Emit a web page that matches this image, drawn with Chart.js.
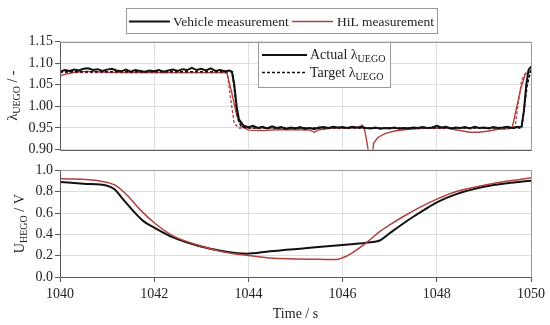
<!DOCTYPE html>
<html><head><meta charset="utf-8">
<script src="https://cdn.jsdelivr.net/npm/chart.js@4.4.1/dist/chart.umd.min.js"></script>
<style>
html,body{margin:0;padding:0;background:#fff;width:550px;height:325px;overflow:hidden}
canvas{position:absolute;left:0}
#c1{top:0}#c2{top:160px}
</style></head><body>
<canvas id="c1" width="550" height="160"></canvas>
<canvas id="c2" width="550" height="165"></canvas>
<script>
// ---------- DATA ----------
const xTicks = [1040, 1042, 1044, 1046, 1048, 1050];
const lambdaTicks = [0.90, 0.95, 1.00, 1.05, 1.10, 1.15];
const voltTicks = [0.0, 0.2, 0.4, 0.6, 0.8, 1.0];

const seriesNames = ['Vehicle measurement', 'HiL measurement'];
const innerNames = ['Actual', 'Target'];

// Vehicle: actual lambda (UEGO)
const vehActT = [1040.0,1040.1,1040.2,1040.3,1040.4,1040.5,1040.6,1040.7,1040.8,1040.9,1041.0,1041.1,1041.2,1041.3,1041.4,1041.5,1041.6,1041.7,1041.8,1041.9,1042.0,1042.1,1042.2,1042.3,1042.4,1042.5,1042.6,1042.7,1042.8,1042.9,1043.0,1043.1,1043.2,1043.3,1043.4,1043.5,1043.6,1043.65,1043.7,1043.75,1043.8,1043.9,1044.0,1044.1,1044.2,1044.3,1044.4,1044.5,1044.6,1044.7,1044.8,1044.9,1045.0,1045.1,1045.2,1045.3,1045.4,1045.5,1045.6,1045.7,1045.8,1045.9,1046.0,1046.1,1046.2,1046.3,1046.4,1046.5,1046.6,1046.7,1046.8,1046.9,1047.0,1047.1,1047.2,1047.3,1047.4,1047.5,1047.6,1047.7,1047.8,1047.9,1048.0,1048.1,1048.2,1048.3,1048.4,1048.5,1048.6,1048.7,1048.8,1048.9,1049.0,1049.1,1049.2,1049.3,1049.4,1049.5,1049.6,1049.7,1049.8,1049.85,1049.9,1049.95,1050.0];
const vehActL = [1.080,1.084,1.082,1.085,1.083,1.087,1.088,1.084,1.086,1.082,1.085,1.087,1.083,1.081,1.085,1.080,1.084,1.082,1.080,1.083,1.081,1.084,1.080,1.083,1.085,1.082,1.086,1.084,1.089,1.084,1.087,1.083,1.088,1.082,1.084,1.081,1.083,1.080,1.050,1.000,0.970,0.955,0.952,0.955,0.950,0.953,0.949,0.954,0.950,0.952,0.948,0.951,0.949,0.952,0.948,0.950,0.947,0.951,0.952,0.950,0.953,0.951,0.952,0.950,0.953,0.951,0.952,0.950,0.949,0.951,0.948,0.950,0.949,0.951,0.948,0.950,0.949,0.951,0.950,0.952,0.950,0.951,0.955,0.951,0.953,0.949,0.951,0.950,0.952,0.949,0.953,0.950,0.951,0.949,0.952,0.950,0.951,0.953,0.950,0.952,0.953,0.990,1.050,1.085,1.092];

// Vehicle: target lambda
const vehTgtT = [1040.0,1043.66,1043.72,1043.78,1043.85,1044.0,1049.80,1049.85,1049.92,1050.0];
const vehTgtL = [1.080,1.080,1.020,0.970,0.952,0.950,0.950,0.990,1.050,1.085];

// HiL: actual lambda
const hilActT = [1040.0,1040.1,1040.3,1040.6,1041.0,1041.5,1042.0,1042.5,1043.0,1043.5,1043.55,1043.65,1043.75,1043.85,1044.0,1044.3,1044.6,1045.0,1045.3,1045.4,1045.5,1045.8,1046.2,1046.35,1046.42,1046.47,1046.52,1046.57,1046.62,1046.66,1046.75,1046.9,1047.1,1047.4,1047.8,1048.2,1048.4,1048.7,1048.9,1049.1,1049.3,1049.5,1049.6,1049.68,1049.78,1049.88,1050.0];
const hilActL = [1.070,1.074,1.079,1.081,1.079,1.078,1.078,1.078,1.078,1.078,1.075,1.030,0.980,0.955,0.945,0.944,0.946,0.946,0.945,0.940,0.946,0.950,0.951,0.952,0.957,0.945,0.915,0.880,0.880,0.915,0.928,0.937,0.943,0.947,0.950,0.950,0.946,0.940,0.940,0.943,0.947,0.948,0.950,0.990,1.040,1.075,1.080];

// HiL: target lambda
const hilTgtT = [1040.0,1043.55,1043.62,1043.70,1043.80,1049.66,1049.72,1049.80,1049.90,1050.0];
const hilTgtL = [1.078,1.078,1.020,0.960,0.950,0.950,1.000,1.060,1.080,1.080];

// HEGO voltage
const vehVoltT = [1040.0,1040.5,1041.0,1041.15,1041.35,1041.56,1041.77,1042.0,1042.4,1042.97,1043.5,1043.96,1044.46,1045.2,1046.0,1046.5,1046.8,1047.0,1047.25,1047.5,1047.75,1048.0,1048.4,1049.0,1049.5,1050.0];
const vehVolt  = [0.892,0.875,0.856,0.825,0.724,0.617,0.524,0.463,0.371,0.288,0.239,0.218,0.242,0.270,0.300,0.322,0.345,0.410,0.490,0.565,0.635,0.700,0.775,0.846,0.880,0.902];
const hilVoltT = [1040.0,1040.85,1041.17,1041.42,1041.7,1042.0,1042.4,1042.97,1043.5,1044.0,1044.46,1045.0,1045.5,1045.85,1046.0,1046.2,1046.5,1046.8,1047.0,1047.3,1047.65,1048.0,1048.4,1049.0,1049.5,1050.0];
const hilVolt  = [0.923,0.900,0.862,0.770,0.632,0.509,0.386,0.294,0.233,0.202,0.178,0.170,0.166,0.163,0.180,0.225,0.320,0.430,0.490,0.570,0.655,0.730,0.800,0.860,0.900,0.930];

// ---------- STYLE ----------
const BLACK = '#111111';
const RED = '#b0413e';
const GRID = '#dedede';
const FRAME = '#9a9a9a';
const AXIS = '#5a5a5a';
const TXT = '#222222';
const FONT = '"Liberation Serif", "Times New Roman", serif';

const pts = (t, v) => t.map((x, i) => ({x, y: v[i]}));

function richWidth(ctx, parts, size) {
  let w = 0;
  for (const p of parts) {
    ctx.font = (p.sub ? (size - 4) : size) + 'px ' + FONT;
    w += ctx.measureText(p.t).width;
  }
  return w;
}
function drawRich(ctx, parts, x, y, align, size) {
  size = size || 14;
  let cx = align === 'center' ? x - richWidth(ctx, parts, size) / 2 : x;
  ctx.textAlign = 'left';
  ctx.textBaseline = 'alphabetic';
  ctx.fillStyle = TXT;
  for (const p of parts) {
    ctx.font = (p.sub ? (size - 4) : size) + 'px ' + FONT;
    ctx.fillText(p.t, cx, y + (p.sub ? 3 : 0));
    cx += ctx.measureText(p.t).width;
  }
}
function legendLine(ctx, x1, x2, y, color, lw, dash) {
  ctx.save();
  ctx.strokeStyle = color; ctx.lineWidth = lw;
  ctx.setLineDash(dash || []);
  ctx.beginPath(); ctx.moveTo(x1, y); ctx.lineTo(x2, y); ctx.stroke();
  ctx.restore();
}

function framePlugin(titleParts, titleX, extra) {
  return {
    id: 'frame',
    afterDraw(chart) {
      const ctx = chart.ctx, a = chart.chartArea;
      const l = Math.round(a.left) + 0.5, r = Math.round(a.right) + 0.5;
      const t = Math.round(a.top) + 0.5, b = Math.round(a.bottom) + 0.5;
      ctx.save();
      ctx.lineWidth = 1;
      ctx.strokeStyle = FRAME;
      ctx.beginPath(); ctx.moveTo(l, t); ctx.lineTo(r, t); ctx.lineTo(r, b); ctx.stroke();
      ctx.strokeStyle = AXIS;
      ctx.beginPath(); ctx.moveTo(l, t); ctx.lineTo(l, b); ctx.lineTo(r, b); ctx.stroke();
      // rotated y title
      ctx.translate(titleX, (a.top + a.bottom) / 2);
      ctx.rotate(-Math.PI / 2);
      drawRich(ctx, titleParts, 0, 0, 'center');
      ctx.restore();
      if (extra) extra(chart);
    }
  };
}

function baseScales(yMin, yMax, yDigits, showX, xHeight) {
  return {
    x: {
      type: 'linear', min: 1040, max: 1050,
      afterBuildTicks: s => { s.ticks = xTicks.map(v => ({value: v})); },
      afterFit: s => { s.height = xHeight; },
      grid: {color: GRID, drawTicks: showX, tickLength: 5, tickColor: AXIS},
      border: {display: false},
      ticks: {display: showX, padding: 4, color: TXT, font: {family: FONT, size: 14},
              callback: v => String(v)}
    },
    y: {
      min: yMin, max: yMax,
      afterBuildTicks: s => { s.ticks = (yDigits === 2 ? lambdaTicks : voltTicks).map(v => ({value: v})); },
      afterFit: s => { s.width = 60; },
      grid: {color: GRID, drawTicks: true, tickLength: 5, tickColor: AXIS},
      border: {display: false},
      ticks: {padding: 2, color: TXT, font: {family: FONT, size: 14},
              callback: v => Number(v).toFixed(yDigits)}
    }
  };
}

const lineDs = (data, color, width, dash, smooth) => ({
  data, borderColor: color, borderWidth: width, borderDash: dash || [],
  pointRadius: 0, fill: false, tension: 0,
  cubicInterpolationMode: smooth ? 'monotone' : 'default'
});

// ---------- TOP CHART (lambda) ----------
new Chart(document.getElementById('c1'), {
  type: 'line',
  data: {
    datasets: [
      lineDs(pts(vehActT, vehActL), BLACK, 2),
      lineDs(pts(vehTgtT, vehTgtL), BLACK, 1.6, [3, 2]),
      lineDs(pts(hilActT, hilActL), RED, 1.4),
      lineDs(pts(hilTgtT, hilTgtL), RED, 1.3, [3, 2])
    ]
  },
  options: {
    responsive: false, animation: false,
    layout: {padding: {left: 0, right: 19, top: 41.5, bottom: 0}},
    plugins: {legend: {display: false}, tooltip: {enabled: false}},
    scales: baseScales(0.90, 1.15, 2, false, 10)
  },
  plugins: [framePlugin([{t: 'λ'}, {t: 'UEGO', sub: true}, {t: ' / -'}], 17, chart => {
    const ctx = chart.ctx;
    ctx.save();
    // main legend
    ctx.fillStyle = '#fff';
    ctx.fillRect(126.5, 8.5, 311, 25);
    ctx.strokeStyle = FRAME; ctx.lineWidth = 1;
    ctx.strokeRect(126.5, 8.5, 311, 25);
    legendLine(ctx, 129, 170, 21.5, BLACK, 2);
    drawRich(ctx, [{t: seriesNames[0]}], 173, 26, 'left', 13.5);
    legendLine(ctx, 292, 333, 21.5, RED, 1.5);
    drawRich(ctx, [{t: seriesNames[1]}], 337, 26, 'left', 13.5);
    // inner legend
    ctx.fillStyle = '#fff';
    ctx.fillRect(258.5, 42.5, 132, 45);
    ctx.strokeStyle = FRAME;
    ctx.strokeRect(258.5, 42.5, 132, 45);
    legendLine(ctx, 262, 307, 55, BLACK, 2);
    drawRich(ctx, [{t: innerNames[0] + ' λ'}, {t: 'UEGO', sub: true}], 310, 59, 'left');
    legendLine(ctx, 262, 307, 72.5, BLACK, 1.6, [3, 2]);
    drawRich(ctx, [{t: innerNames[1] + ' λ'}, {t: 'UEGO', sub: true}], 310, 77, 'left');
    ctx.restore();
  })]
});

// ---------- BOTTOM CHART (HEGO voltage) ----------
new Chart(document.getElementById('c2'), {
  type: 'line',
  data: {
    datasets: [
      lineDs(pts(hilVoltT, hilVolt), RED, 1.5, null, true),
      lineDs(pts(vehVoltT, vehVolt), BLACK, 2, null, true)
    ]
  },
  options: {
    responsive: false, animation: false,
    layout: {padding: {left: 0, right: 19, top: 8.3, bottom: 0}},
    plugins: {legend: {display: false}, tooltip: {enabled: false}},
    scales: baseScales(0, 1, 1, true, 48)
  },
  plugins: [framePlugin([{t: 'U'}, {t: 'HEGO', sub: true}, {t: ' / V'}], 24, chart => {
    const ctx = chart.ctx, a = chart.chartArea;
    ctx.save();
    drawRich(ctx, [{t: 'Time / s'}], (a.left + a.right) / 2, 158, 'center');
    ctx.restore();
  })]
});
</script>
</body></html>
